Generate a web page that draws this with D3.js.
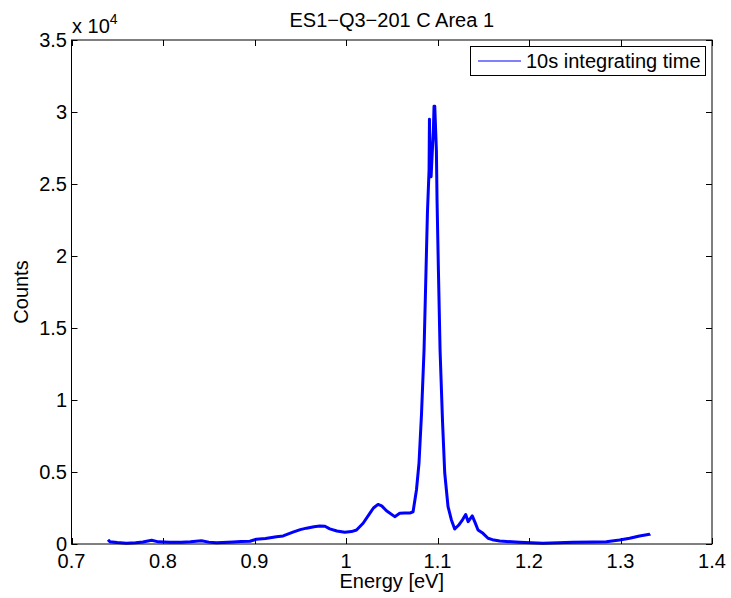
<!DOCTYPE html>
<html><head><meta charset="utf-8">
<script src="https://cdn.jsdelivr.net/npm/d3@7"></script>
<style>body{margin:0;background:#fff;}svg{display:block;font-family:"Liberation Sans",Arial,sans-serif;}</style>
</head><body>
<svg id="c" width="731" height="598"></svg>
<script>
const energy = [0.7399,0.742,0.750,0.760,0.770,0.778,0.7876,0.795,0.8076,0.820,0.830,0.842,0.850,0.8586,0.8767,0.885,0.895,0.902,0.912,0.924,0.9313,0.942,0.950,0.9568,0.965,0.9714,0.977,0.9823,0.990,0.9987,1.006,1.0115,1.0187,1.026,1.030,1.035,1.039,1.0442,1.0533,1.0587,1.064,1.0697,1.0733,1.077,1.0798,1.0825,1.0853,1.0890,1.0908,1.0912,1.0918,1.0930,1.0945,1.0955,1.0962,1.0970,1.0988,1.0995,1.1010,1.1028,1.1055,1.1079,1.1115,1.1152,1.1188,1.1230,1.1275,1.1308,1.1335,1.138,1.141,1.1443,1.1497,1.1552,1.160,1.168,1.1898,1.2152,1.248,1.270,1.2845,1.299,1.31,1.3208,1.3317,1.3325];
const counts = [300,150,100,60,90,140,260,150,120,130,150,230,130,80,140,170,190,330,380,510,560,820,1000,1100,1200,1250,1230,1050,900,810,860,970,1440,2130,2500,2750,2650,2310,1900,2130,2150,2150,2240,3750,5625,9000,13470,23000,26000,29500,26500,25500,27500,28700,30400,30400,27300,23890,19000,13470,8500,4930,2600,1670,1040,1300,1700,2050,1550,1950,1500,970,740,400,300,210,120,50,120,140,160,280,400,560,670,700];
const xTicks = [0.7,0.8,0.9,1.0,1.1,1.2,1.3,1.4];
const xTickLabels = ["0.7","0.8","0.9","1","1.1","1.2","1.3","1.4"];
const yTicks = [0,5000,10000,15000,20000,25000,30000,35000];
const yTickLabels = ["0","0.5","1","1.5","2","2.5","3","3.5"];
const title = "ES1\u2212Q3\u2212201 C Area 1";
const seriesName = "10s integrating time";

const L=71.5,R=712,T=40,B=544;
const x=d3.scaleLinear().domain([0.7,1.4]).range([L,R]);
const y=d3.scaleLinear().domain([0,35000]).range([B,T]);
const svg=d3.select("#c");
const fs=20;

// data line
const data=energy.map((e,i)=>[e,counts[i]]);
svg.append("path").datum(data)
  .attr("d",d3.line().x(d=>x(d[0])).y(d=>y(d[1])))
  .attr("fill","none").attr("stroke","#0000ff").attr("stroke-width",3)
  .attr("stroke-linejoin","round");

// box
svg.append("rect").attr("x",L).attr("y",T).attr("width",R-L).attr("height",B-T)
  .attr("fill","none").attr("stroke","#000").attr("stroke-width",1);

const tl=6;
xTicks.forEach((t,i)=>{
  const px=Math.round(x(t))+0.5;
  svg.append("line").attr("x1",px).attr("x2",px).attr("y1",B).attr("y2",B-tl).attr("stroke","#000");
  svg.append("line").attr("x1",px).attr("x2",px).attr("y1",T).attr("y2",T+tl).attr("stroke","#000");
  svg.append("text").attr("x",x(t)).attr("y",B+24).attr("text-anchor","middle")
    .attr("font-size",fs).text(xTickLabels[i]);
});
yTicks.forEach((t,i)=>{
  const py=Math.round(y(t))+0.5;
  svg.append("line").attr("x1",L).attr("x2",L+tl).attr("y1",py).attr("y2",py).attr("stroke","#000");
  svg.append("line").attr("x1",R).attr("x2",R-tl).attr("y1",py).attr("y2",py).attr("stroke","#000");
  svg.append("text").attr("x",67).attr("y",y(t)+7).attr("text-anchor","end")
    .attr("font-size",fs).text(yTickLabels[i]);
});

// exponent
const ex=svg.append("text").attr("x",72).attr("y",33).attr("font-size",fs);
ex.append("tspan").text("x 10");
ex.append("tspan").attr("font-size",14).attr("dy",-9).text("4");

// labels
svg.append("text").attr("x",(L+R)/2).attr("y",588).attr("text-anchor","middle").attr("font-size",fs).text("Energy [eV]");
svg.append("text").attr("transform",`translate(28,${(T+B)/2}) rotate(-90)`).attr("text-anchor","middle").attr("font-size",fs).text("Counts");
svg.append("text").attr("x",(L+R)/2).attr("y",27).attr("text-anchor","middle").attr("font-size",fs).text(title);

// legend
const lg=svg.append("g");
lg.append("rect").attr("x",470.5).attr("y",46.5).attr("width",235).attr("height",29).attr("fill","#fff").attr("stroke","#000");
lg.append("line").attr("x1",478).attr("x2",521).attr("y1",61).attr("y2",61).attr("stroke","#0000ff").attr("stroke-width",1);
lg.append("text").attr("x",526).attr("y",68).attr("font-size",fs).text(seriesName);
</script>
</body></html>
